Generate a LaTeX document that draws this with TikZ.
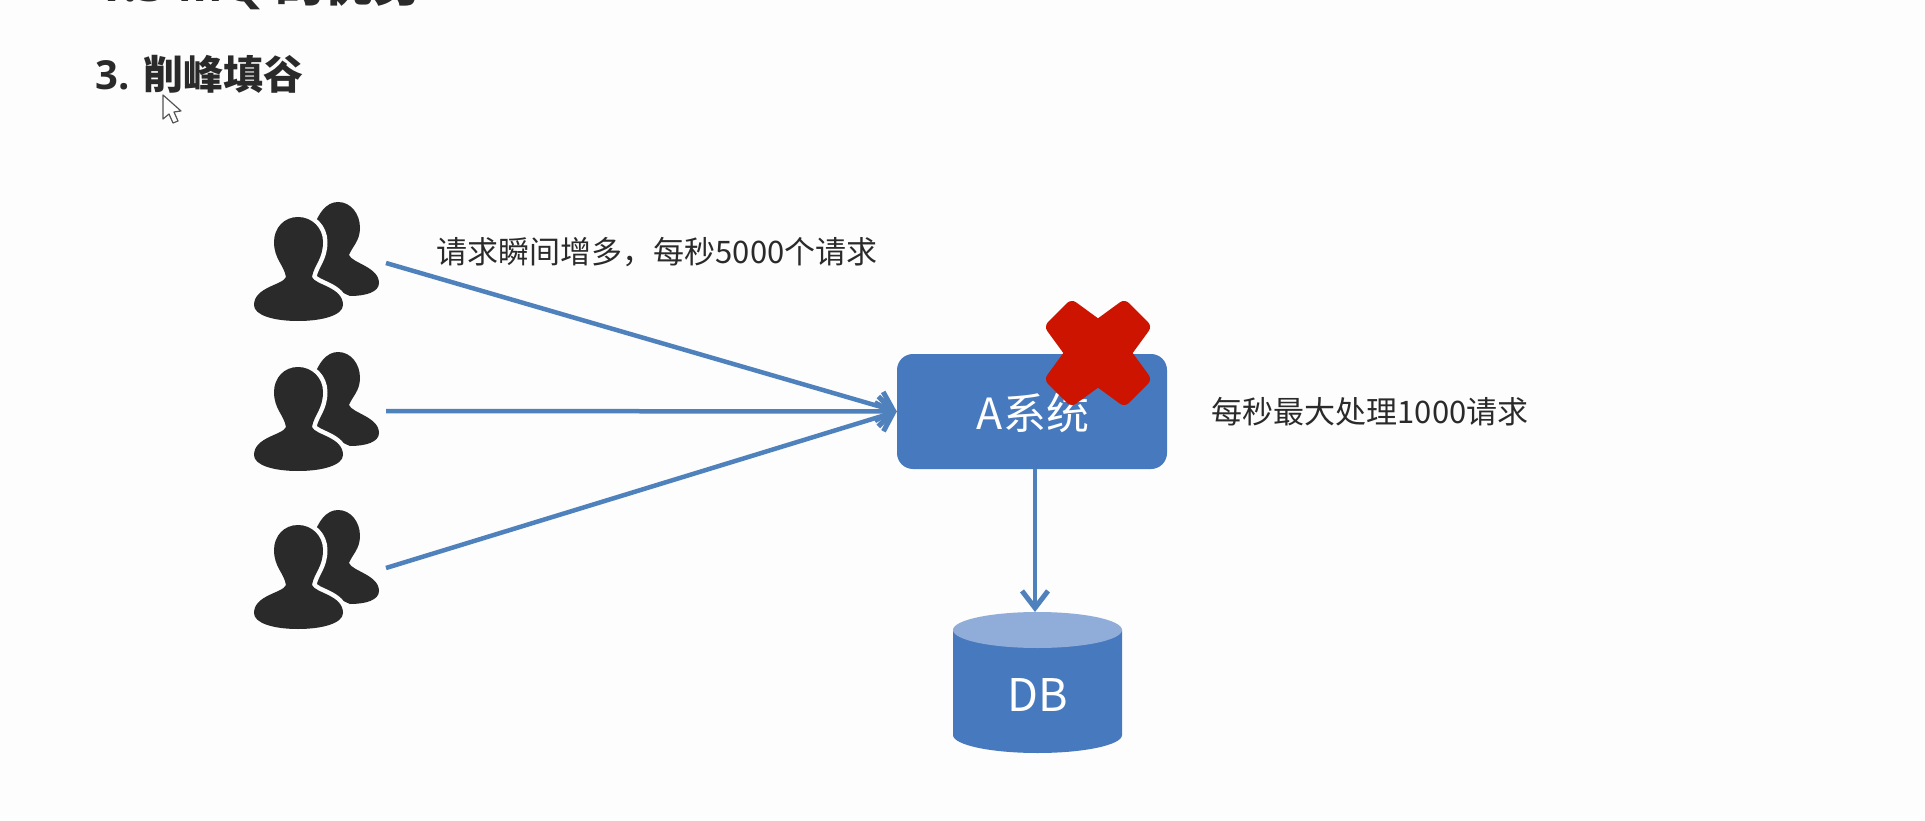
\documentclass[tikz,border=0pt]{standalone}
\usepackage{fontspec}
\setmainfont{Noto Sans CJK SC}
\newfontfamily\latinb[BoldFont=Open Sans Bold]{Open Sans}
\usetikzlibrary{arrows.meta}
\definecolor{inkc}{HTML}{2A2A2A}
\definecolor{bluec}{HTML}{4679BE}
\definecolor{linec}{HTML}{4F81BD}
\definecolor{lightc}{HTML}{8FADD8}
\definecolor{redc}{HTML}{CC1400}
\definecolor{paperc}{HTML}{FDFDFD}
\newcommand{\frontperson}{(0,0) .. controls (14,0) and (25,11) .. (25,25)
      .. controls (25,42) and (16,48) .. (14,60)
      .. controls (17,68) and (45,70) .. (45,88)
      .. controls (45,98) and (25,104) .. (0,104)
      .. controls (-25,104) and (-44,98) .. (-44,88)
      .. controls (-44,70) and (-15,68) .. (-12,60)
      .. controls (-14,48) and (-24,42) .. (-24,25)
      .. controls (-24,11) and (-14,0) .. (0,0) -- cycle}
\tikzset{
  flow/.style={draw=linec,line width=4.5pt,-{Straight Barb[length=15pt,width=30pt,line width=5pt]}},
  label/.style={inner sep=0pt,text=inkc,font=\fontsize{31}{34}\selectfont,anchor=center},
  head/.style={inner sep=0pt,text=inkc,font=\fontsize{40}{44}\selectfont\bfseries,anchor=west},
  tophead/.style={inner sep=0pt,text=inkc,font=\fontsize{49}{52}\selectfont\bfseries,anchor=base west},
  inbox/.style={inner sep=0pt,text=white,font=\fontsize{43}{46}\selectfont},
  pics/users/.style={code={
    \fill[inkc] (40,-15) .. controls (53,-15) and (62,-3) .. (62,11)
      .. controls (62,24) and (54,30) .. (51,38)
      .. controls (54,46) and (81,50) .. (81,66)
      .. controls (81,75) and (68,79) .. (52,79)
      -- (10,60) -- (16,10) .. controls (20,-3) and (28,-15) .. (40,-15) -- cycle;
    \fill[paperc,draw=paperc,line width=9pt,line join=round] \frontperson;
    \fill[inkc] \frontperson;
  }}
}
\begin{document}
\begin{tikzpicture}[x=1pt,y=-1pt]
\useasboundingbox (0,0) rectangle (1925,821);
\fill[paperc] (0,0) rectangle (1925,821);
\begin{scope}
\clip (0,0) rectangle (1925,821);
\node[tophead] (toptitle) at (95,2) {\latinb\bfseries 1.3 MQ \normalfont\bfseries 的优势};
\end{scope}
\node[head] (title) at (95,74) {\latinb\bfseries 3. \normalfont\bfseries 削峰填谷};
% cursor
\draw[draw=inkc!80,fill=white,line width=1.2pt,line join=round] (163,95) -- (163,119) -- (169,114) -- (173,123) -- (178,121) -- (174,112) -- (181,111) -- cycle;
% users
\coordinate (u1) at (298,217);
\coordinate (u2) at (298,367);
\coordinate (u3) at (298,525);
\pic at (u1) {users};
\pic at (u2) {users};
\pic at (u3) {users};
\coordinate (s1) at (386,263);
\coordinate (s2) at (386,411);
\coordinate (s3) at (386,568);
% system box
\node[draw=none,fill=bluec,rounded corners=16pt,minimum width=270pt,minimum height=115pt,inner sep=0pt] (sys) at (1032,411.5) {};
\node[inbox] (systext) at (1033,413) {A系统};
\draw[flow] (s1) -- (sys.west);
\draw[flow] (s2) -- (sys.west);
\draw[flow] (s3) -- (sys.west);
% cross
\fill[redc,line join=round,draw=redc,line width=14pt,shift={(1098,353)}]
  (0,-26) -- (26,-45) -- (45,-26) -- (26,0) -- (45,26) -- (26,45) -- (0,26) -- (-26,45) -- (-45,26) -- (-26,0) -- (-45,-26) -- (-26,-45) -- cycle;
% DB
\fill[bluec] (953,630) -- (953,735) arc[start angle=180,end angle=360,x radius=84.5pt,y radius=18pt] -- (1122,630) -- cycle;
\fill[lightc] (1037.5,630) ellipse[x radius=84.5pt,y radius=18pt];
\coordinate (dbtop) at (1035,612);
\node[inbox,font=\fontsize{45}{48}\selectfont] (dbtext) at (1037.5,695) {DB};
\draw[flow,-{Straight Barb[length=17pt,width=26pt,line width=5pt]}] (1035,469) -- (dbtop);
\node[label] (t1) at (657,252) {请求瞬间增多，每秒5000个请求};
\node[label] (t2) at (1370,412) {每秒最大处理1000请求};
\end{tikzpicture}
\end{document}
